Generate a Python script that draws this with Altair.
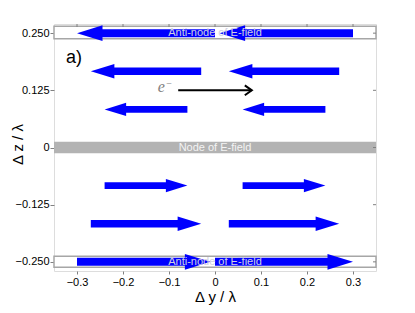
import altair as alt
import pandas as pd

# ---------------- data ----------------
x_ticks = [-0.3, -0.2, -0.1, 0.0, 0.1, 0.2, 0.3]
z_ticks = [-0.25, -0.125, 0.0, 0.125, 0.25]

arrow_z = [0.25, 0.25, 1/6, 1/6, 1/12, 1/12, -1/12, -1/12, -1/6, -1/6, -0.25, -0.25]
arrow_tail = [0.0, 0.3, -0.03, 0.27, -0.06, 0.24, -0.24, 0.06, -0.27, 0.03, -0.3, 0.0]
arrow_tip = [-0.3, 0.01, -0.27, 0.03, -0.24, 0.06, -0.06, 0.24, -0.03, 0.27, -0.01, 0.3]
arrow_level = [3, 3, 2, 2, 1, 1, 1, 1, 2, 2, 3, 3]

node_lo, node_hi = -0.0125, 0.0125
antinode_z = [0.25, -0.25]
antinode_lo = [0.238, -0.262]
antinode_hi = [0.265, -0.238]

electron_from, electron_to, electron_z = -0.08, 0.08, 0.125

# ---------------- layout / style ----------------
W, H = 322, 247
XD, ZD = [-0.35, 0.35], [-0.27, 0.27]
px_per_unit = W / (XD[1] - XD[0])
head_len_px = {1: 21.5, 2: 25.5, 3: 28.0}
shaft_px = {1: 6.7, 2: 8.0, 3: 10.0}
BLUE = "#0000ff"
FRAME = "#808080"
FONT = "Liberation Sans"

df = pd.DataFrame({"z": arrow_z, "tail": arrow_tail, "tip": arrow_tip, "level": arrow_level})
df["dir"] = ["R" if t > a else "L" for a, t in zip(df["tail"], df["tip"])]
df["hlevel"] = df["level"]
df["shaft_end"] = [
    tip - (1 if d == "R" else -1) * 0.8 * head_len_px[lv] / px_per_unit
    for tip, d, lv in zip(df["tip"], df["dir"], df["level"])
]

xs = alt.Scale(domain=XD, nice=False, zero=False)
zs = alt.Scale(domain=ZD, nice=False, zero=False)
x_axis = alt.Axis(
    title="Δ y / λ", values=x_ticks,
    labelExpr="datum.value == 0 ? '0' : replace(format(datum.value, '.1f'), '-', '−')",
    titleFontSize=15, titleFont=FONT, titleFontWeight="normal", titleColor="black",
    titleBaseline="alphabetic", titleY=30,
    labelFontSize=11, labelFont=FONT, labelColor="black", labelPadding=2,
    domain=False, grid=False, tickSize=3, tickColor=FRAME, tickWidth=1,
)
z_axis = alt.Axis(
    title="Δ z / λ", values=z_ticks,
    labelExpr="datum.value == 0 ? '0' : replace(format(datum.value, '.3f'), '-', '−')",
    titleFontSize=15, titleFont=FONT, titleFontWeight="normal", titleColor="black",
    titleBaseline="alphabetic", titleX=-32, titleY=120,
    labelFontSize=11, labelFont=FONT, labelColor="black", labelPadding=1,
    domain=False, grid=False, tickSize=4, tickColor=FRAME, tickWidth=1,
)


def X(f):
    return alt.X(f, type="quantitative", scale=xs, axis=x_axis)


def Z(f):
    return alt.Y(f, type="quantitative", scale=zs, axis=z_axis)


# bands
node_df = pd.DataFrame({"lo": [node_lo], "hi": [node_hi], "z": [0.0], "x": [0.0],
                        "label": ["Node of E-field"]})
anti_df = pd.DataFrame({"lo": antinode_lo, "hi": antinode_hi, "z": antinode_z,
                        "x": [0.0, 0.0], "label": ["Anti-node of E-field"] * 2})

node_band = alt.Chart(node_df).mark_rect(color="#b3b3b3").encode(
    x=alt.value(0), x2=alt.value(W), y=Z("lo"), y2="hi")
anti_band = alt.Chart(anti_df).mark_rect(fill="white", stroke="#a6a6a6", strokeWidth=1.5).encode(
    x=alt.value(0), x2=alt.value(W), y=Z("lo"), y2="hi")

shafts = alt.Chart(df).mark_rule(color=BLUE, strokeCap="butt").encode(
    x=X("tail"), x2="shaft_end", y=Z("z"),
    strokeWidth=alt.StrokeWidth("level:O", scale=alt.Scale(domain=[1, 2, 3],
                                range=[shaft_px[1], shaft_px[2], shaft_px[3]]), legend=None),
)
heads = alt.Chart(df).mark_point(filled=True, color=BLUE, opacity=1, strokeWidth=0).encode(
    x=X("tip"), y=Z("z"),
    shape=alt.Shape("dir:N", scale=alt.Scale(domain=["L", "R"],
                                              range=["M0,0L2,-0.62L2,0.62Z", "M0,0L-2,-0.62L-2,0.62Z"]),
                    legend=None),
    size=alt.Size("hlevel:O", scale=alt.Scale(domain=[1, 2, 3],
                                               range=[head_len_px[1] ** 2, head_len_px[2] ** 2,
                                                      head_len_px[3] ** 2]),
                  legend=None),
)

anti_text = alt.Chart(anti_df).mark_text(font=FONT, fontSize=11, color="#cfcfdf",
                                         baseline="middle").encode(
    x=X("x"), y=Z("z"), text="label:N")
node_text = alt.Chart(node_df).mark_text(font=FONT, fontSize=11, color="#f4f4f4",
                                         baseline="middle").encode(
    x=X("x"), y=Z("z"), text="label:N")

# electron arrow
e_df = pd.DataFrame({"x0": [electron_from], "x1": [electron_to], "z": [electron_z]})
e_line = alt.Chart(e_df).mark_rule(color="black", strokeWidth=2).encode(
    x=X("x0"), x2="x1", y=Z("z"))
e_head = alt.Chart(e_df).mark_point(shape="M-1,-0.7L0,0L-1,0.7", filled=False, color="black",
                                    strokeWidth=2, size=196, opacity=1).encode(
    x=X("x1"), y=Z("z"))
lab_df = pd.DataFrame({"x": [-0.117, -0.100, -0.324], "z": [0.1208, 0.139, 0.184],
                       "t": ["e", "−", "a)"]})
e_txt = alt.Chart(lab_df.iloc[[0]]).mark_text(font="Liberation Serif", fontStyle="italic",
                                              fontSize=16, color="#808080",
                                              baseline="alphabetic").encode(
    x=X("x"), y=Z("z"), text="t:N")
e_sup = alt.Chart(lab_df.iloc[[1]]).mark_text(font="Liberation Serif", fontSize=10,
                                              color="#808080", baseline="middle").encode(
    x=X("x"), y=Z("z"), text="t:N")
a_txt = alt.Chart(lab_df.iloc[[2]]).mark_text(font=FONT, fontSize=18, color="black",
                                              align="left", baseline="alphabetic").encode(
    x=X("x"), y=Z("z"), text="t:N")

# mirrored inward ticks on top and right
top_ticks = alt.Chart(pd.DataFrame({"x": x_ticks})).mark_rule(color=FRAME, strokeWidth=1).encode(
    x=X("x"), y=alt.value(0), y2=alt.value(3))
right_ticks = alt.Chart(pd.DataFrame({"z": z_ticks})).mark_rule(color=FRAME, strokeWidth=1).encode(
    y=Z("z"), x=alt.value(W - 3), x2=alt.value(W))

chart = alt.layer(
    node_band, anti_band, shafts, heads, anti_text, node_text,
    e_line, e_head, e_txt, e_sup, a_txt, top_ticks, right_ticks,
).resolve_scale(size="independent", strokeWidth="independent").properties(
    width=W, height=H,
    autosize=alt.AutoSizeParams(type="none"),
    padding={"left": 46, "top": 16, "right": 29, "bottom": 34},
).configure_view(stroke=FRAME, strokeWidth=1.3).configure(background="white")

chart.save("out.html", embed_options={"renderer": "svg", "actions": False})
